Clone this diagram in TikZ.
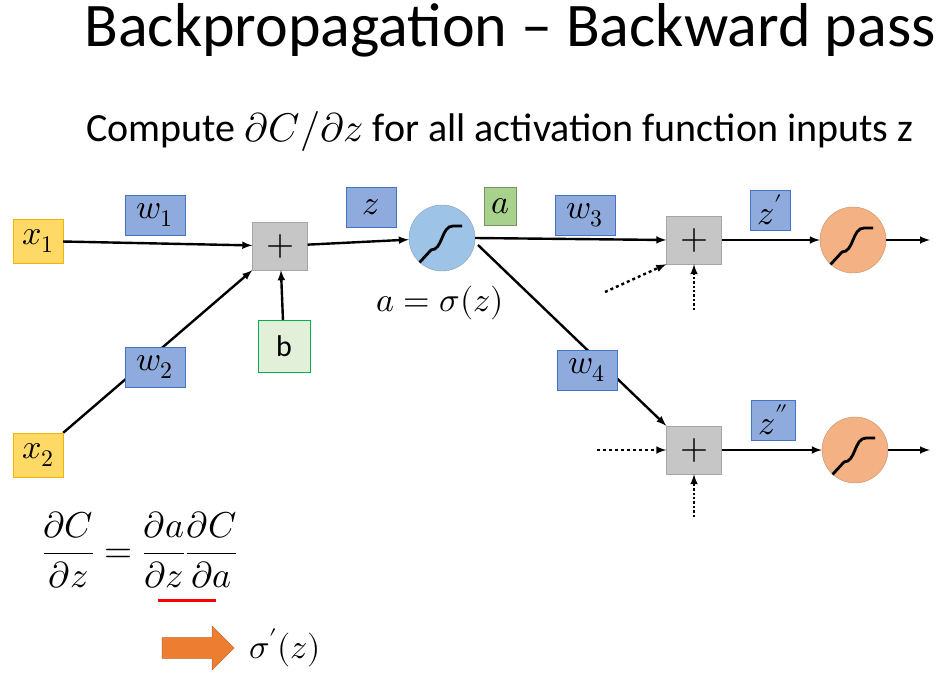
\documentclass[tikz,border=0pt]{standalone}
\usepackage{amsmath}
\usepackage{unicode-math}
\setmainfont{Carlito}
\setmathfont{Latin Modern Math}
\usetikzlibrary{shapes.arrows,backgrounds}
\definecolor{inorange}{HTML}{FFD966}
\definecolor{inedge}{HTML}{F4B400}
\definecolor{wblue}{HTML}{8FAADC}
\definecolor{wedge}{HTML}{4472C4}
\definecolor{bgreen}{HTML}{E2F0D9}
\definecolor{bedge}{HTML}{00B050}
\definecolor{agreen}{HTML}{A9D18E}
\definecolor{sblue}{HTML}{9DC3E6}
\definecolor{sorange}{HTML}{F4B183}
\definecolor{sedge}{HTML}{ED7D31}
\tikzset{
  inbox/.style={draw=inedge,fill=inorange,minimum width=50pt,minimum height=44pt,inner sep=0pt,font=\fontsize{34}{34}\selectfont},
  wbox/.style={draw=wedge,fill=wblue,minimum width=60pt,minimum height=40pt,inner sep=0pt,font=\fontsize{34}{34}\selectfont},
  plusbox/.style={draw=gray!70,fill=gray!45,minimum width=55pt,minimum height=48pt,font=\fontsize{36}{36}\selectfont},
  neuron/.style={circle,draw=#1!80!black,fill=#1,minimum size=66pt},
  lbl/.style={font=\fontsize{34}{34}\selectfont},
  arr/.style={-latex,line width=2.4pt},
  ln/.style={line width=2.4pt}
}
\newcommand\sigcurve[1]{\draw[line width=2.8pt] ([shift={(-20,12)}]#1) -- ++(9,0) .. controls +(12,0) and +(-12,0) .. ++(22,-24) -- ++(9,0);}
\begin{document}
\begin{tikzpicture}[x=1pt,y=-1pt]
  \useasboundingbox (0,0) rectangle (952,679);
  \node[font=\fontsize{62}{62}\selectfont] (title) at (510,30) {Backpropagation -- Backward pass};
  \node[font=\fontsize{40}{40}\selectfont] (sub) at (500,132) {Compute $\partial C/\partial z$ for all activation function inputs z};
  % inputs and weights
  \node[inbox] (x1) at (38,241) {$x_1$};
  \node[inbox] (x2) at (38,455) {$x_2$};
  \node[wbox] (w1) at (155,215) {$w_1$};
  \node[wbox] (w2) at (155,367) {$w_2$};
  \node[plusbox] (p1) at (280,246) {$+$};
  \node[draw=bedge,fill=bgreen,minimum size=52pt,font=\fontsize{30}{30}\selectfont] (b) at (284,346) {b};
  \node[wbox,minimum width=50pt] (z) at (371,207) {$z$};
  \node[neuron=sblue] (s1) at (442,238) {};
  \sigcurve{s1}
  \node[draw=agreen!70!black,fill=agreen,minimum width=32pt,minimum height=38pt,inner sep=0pt,lbl] (a) at (500,206) {$a$};
  \node[lbl] (aeq) at (440,303) {$a=\sigma(z)$};
  % second layer
  \node[wbox] (w3) at (585,215) {$w_3$};
  \node[wbox] (w4) at (587,370) {$w_4$};
  \node[plusbox] (p2) at (694,240) {$+$};
  \node[plusbox] (p3) at (694,450) {$+$};
  \node[wbox,minimum width=40pt] (z1) at (770,210) {$z'$};
  \node[wbox,minimum width=44pt] (z2) at (773,420) {$z''$};
  \node[neuron=sorange] (s2) at (853,240) {};
  \node[neuron=sorange] (s3) at (855,450) {};
  \sigcurve{s2}
  \sigcurve{s3}
  \coordinate (o2) at (930,240);
  \coordinate (o3) at (930,450);
  \coordinate (d2) at (605,292);
  \coordinate (t2) at (694,310);
  \coordinate (d3) at (597,450);
  \coordinate (t3) at (694,517);
  \coordinate (s1out) at (478,245);
  % connections
  \draw[arr] (x1) -- (p1);
  \begin{pgfonlayer}{background}
    \draw[arr] (x2.north east) -- (p1.south west);
    \draw[arr] (s1out) -- (p3.north west);
  \end{pgfonlayer}
  \draw[arr] (b) -- (p1);
  \draw[arr] (p1) -- (s1);
  \draw[arr] (s1.east) -- (p2.west);
  \draw[arr] (p2) -- (s2);
  \draw[arr] (p3) -- (s3);
  \draw[arr] (s2) -- (o2);
  \draw[arr] (s3) -- (o3);
  \draw[arr,dashed] (d2) -- (p2.south west);
  \draw[arr,dotted] (t2) -- (p2.south);
  \draw[arr,dashed] (d3) -- (p3.west);
  \draw[arr,dotted] (t3) -- (p3.south);
  % formula
  \node[font=\fontsize{36}{36}\selectfont] (eq) at (140,550) {$\dfrac{\partial C}{\partial z}=\dfrac{\partial a}{\partial z}\dfrac{\partial C}{\partial a}$};
  \coordinate (u1) at (158,600);
  \coordinate (u2) at (216,600);
  \draw[red,line width=3pt] (u1) -- (u2);
  \node[single arrow,fill=sedge,draw=sedge!80!black,minimum height=72pt,minimum width=44pt,single arrow head extend=4pt] (big) at (193,648) {};
  \node[lbl] (sp) at (285,648) {$\sigma'(z)$};
\end{tikzpicture}
\end{document}
